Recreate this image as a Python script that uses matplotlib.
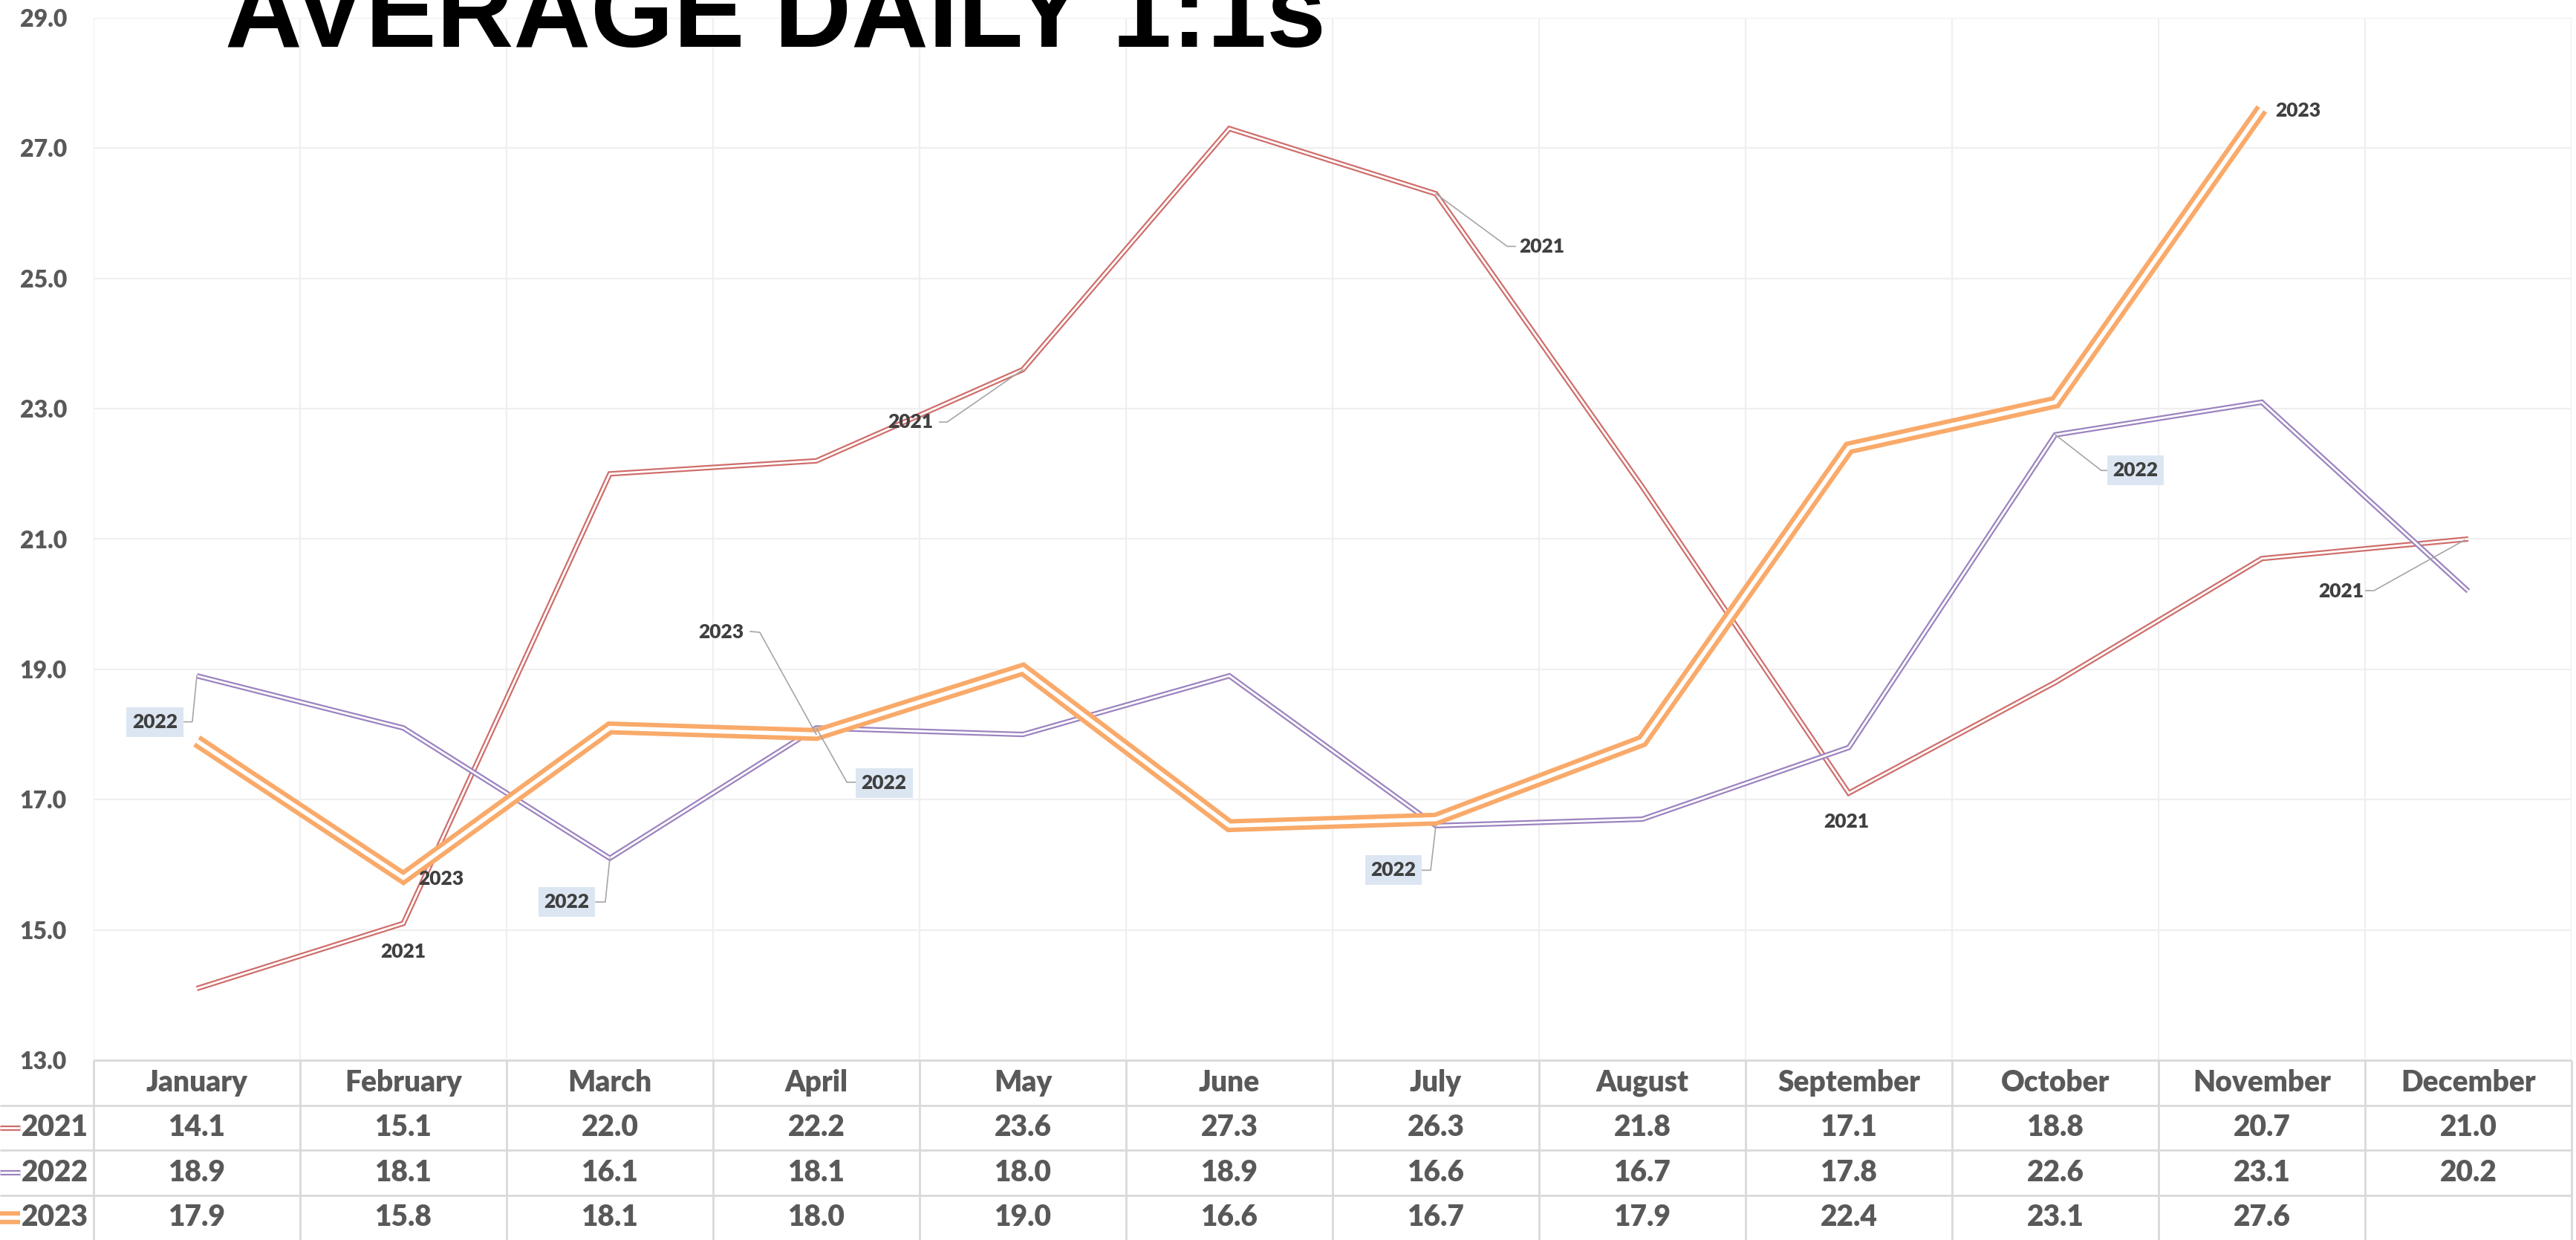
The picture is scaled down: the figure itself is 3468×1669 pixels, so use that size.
"""Average daily 1:1s per month, 2021-2023, line chart with a data table underneath."""
import numpy as np
import matplotlib.pyplot as plt
import matplotlib.patheffects as pe
import matplotlib.transforms as mtransforms

# data
months = ["January", "February", "March", "April", "May", "June", "July",
          "August", "September", "October", "November", "December"]
years = ["2021", "2022", "2023"]
avg_2021 = [14.1, 15.1, 22.0, 22.2, 23.6, 27.3, 26.3, 21.8, 17.1, 18.8, 20.7, 21.0]
avg_2022 = [18.9, 18.1, 16.1, 18.1, 18.0, 18.9, 16.6, 16.7, 17.8, 22.6, 23.1, 20.2]
avg_2023 = [17.9, 15.8, 18.1, 18.0, 19.0, 16.6, 16.7, 17.9, 22.4, 23.1, 27.6, np.nan]
y_ticks = [13, 15, 17, 19, 21, 23, 25, 27, 29]

series = [avg_2021, avg_2022, avg_2023]
colors = ["#CF6E6B", "#9C83BF", "#F9AA6A"]
line_w = [(2.6, 1.0), (2.6, 1.0), (6.3, 2.0)]   # outer, white gap (pt)

W_PX, H_PX, DPI = 3468, 1669, 200
TEXT = "#595959"
LABEL = "#404040"
WEIGHT = "heavy"

plt.rcParams["font.family"] = ["Lato", "DejaVu Sans"]

fig = plt.figure(figsize=(W_PX / DPI, H_PX / DPI), dpi=DPI)
fig.patch.set_facecolor("white")

# plot area: 126..3462 px wide, 24..1427 px high
ax = fig.add_axes([126 / W_PX, 1 - 1427 / H_PX, 3336 / W_PX, 1403 / H_PX])
ax.set_xlim(0, 12)
ax.set_ylim(13, 29)
for s in ax.spines.values():
    s.set_visible(False)
ax.set_xticks(range(13))
ax.tick_params(axis="x", length=0, labelbottom=False)
ax.set_yticks(y_ticks)
ax.set_yticklabels([f"{t:.1f}" for t in y_ticks])
ax.tick_params(axis="y", length=0, pad=13, labelsize=11.5, labelcolor=TEXT)
for lbl in ax.get_yticklabels():
    lbl.set_fontweight(WEIGHT)
ax.grid(True, color="#EFEFEF", lw=0.8)
ax.set_axisbelow(True)


def double_fx(color, outer, inner):
    return [pe.Stroke(linewidth=outer, foreground=color),
            pe.Stroke(linewidth=inner, foreground="white")]


x = np.arange(12) + 0.5
for vals, c, (wo, wi) in zip(series, colors, line_w):
    ln, = ax.plot(x, vals, color=c, lw=wo, solid_joinstyle="miter",
                  solid_capstyle="butt")
    ln.set_path_effects(double_fx(c, wo, wi))

# series-name data labels: (series, month, dx, dy, leader) offsets in points
labels = [
    (0, 1, 0, -13.7, None),
    (0, 4, -54.4, -25.3, [(-40.3, -25.4), (-36.7, -25.4), (0, 0)]),
    (0, 6, 51.4, -25.7, [(0, 0), (34.6, -25.5), (38.5, -25.5)]),
    (0, 8, -1.1, -13.9, None),
    (0, 11, -61.6, -25.4, [(-49.7, -25.0), (-45.7, -25.0), (-1.8, -0.5)]),
    (1, 0, -20.2, -22.3, [(-6.1, -22.3), (-2.2, -22.3), (0, 0)]),
    (1, 2, -20.9, -21.2, [(-6.8, -21.2), (-2.2, -21.2), (0, 0)]),
    (1, 3, 32.8, -26.6, [(0, 0), (14.8, -26.3), (19.1, -26.3)]),
    (1, 6, -20.5, -21.6, [(-6.9, -21.6), (-2.5, -21.6), (0, 0)]),
    (1, 9, 38.9, -17.3, [(0, 0), (22.3, -17.3), (26.6, -17.3)]),
    (2, 1, 18.4, -0.7, None),
    (2, 3, -46.1, 49.5, [(-32.0, 49.9), (-27.4, 49.5), (0, 0)]),
    (2, 10, 17.6, -0.7, None),
]
for si, mi, dx, dy, leader in labels:
    xv, yv = x[mi], series[si][mi]
    box = None
    if si == 1:
        box = dict(boxstyle="square,pad=0.3", fc="#DCE6F2", ec="none")
    ax.annotate(years[si], xy=(xv, yv), xytext=(dx, dy), textcoords="offset points",
                ha="center", va="center", fontsize=9.5, fontweight=WEIGHT,
                color=LABEL, bbox=box, zorder=5)
    if leader:
        tr = (mtransforms.Affine2D().scale(1 / 72) + fig.dpi_scale_trans
              + mtransforms.ScaledTranslation(xv, yv, ax.transData))
        lx, ly = zip(*leader)
        ax.plot(lx, ly, color="#A6A6A6", lw=0.6, transform=tr, clip_on=False, zorder=4)

# title (runs off the top edge as in the original)
fig.text(303 / W_PX, 1 - 63 / H_PX, "AVERAGE DAILY 1:1s", ha="left", va="baseline",
         fontsize=51.7, fontweight="bold", family=["Liberation Sans", "DejaVu Sans"],
         color="black")

# data table below the plot
key_col = 126 / 278
tab = fig.add_axes([0, 0, 3462 / W_PX, 242 / H_PX])
tab.set_xlim(-key_col, 12)
tab.set_ylim(4, 0)
tab.axis("off")
grid_c = "#D9D9D9"
tab.hlines(0, 0, 12, color=grid_c, lw=1.0, clip_on=False)
tab.hlines([1, 2, 3], -key_col, 12, color=grid_c, lw=1.0, clip_on=False)
tab.vlines(range(13), 0, 4, color=grid_c, lw=1.0, clip_on=False)

for i, m in enumerate(months):
    tab.text(i + 0.5, 0.5, m, ha="center", va="center", fontsize=14,
             fontweight=WEIGHT, color=TEXT)
for r, (yr, vals, c, (wo, wi)) in enumerate(zip(years, series, colors, line_w)):
    yc = r + 1.5
    tab.text(-0.025, yc, yr, ha="right", va="center", fontsize=14,
             fontweight=WEIGHT, color=TEXT)
    k, = tab.plot([-key_col, -key_col + 0.097], [yc, yc], color=c, lw=wo,
                  solid_capstyle="butt", clip_on=False)
    k.set_path_effects(double_fx(c, wo, wi))
    for i, v in enumerate(vals):
        if not np.isnan(v):
            tab.text(i + 0.5, yc, f"{v:.1f}", ha="center", va="center",
                     fontsize=14, fontweight=WEIGHT, color=TEXT)

fig.savefig("out.png", dpi=DPI)
